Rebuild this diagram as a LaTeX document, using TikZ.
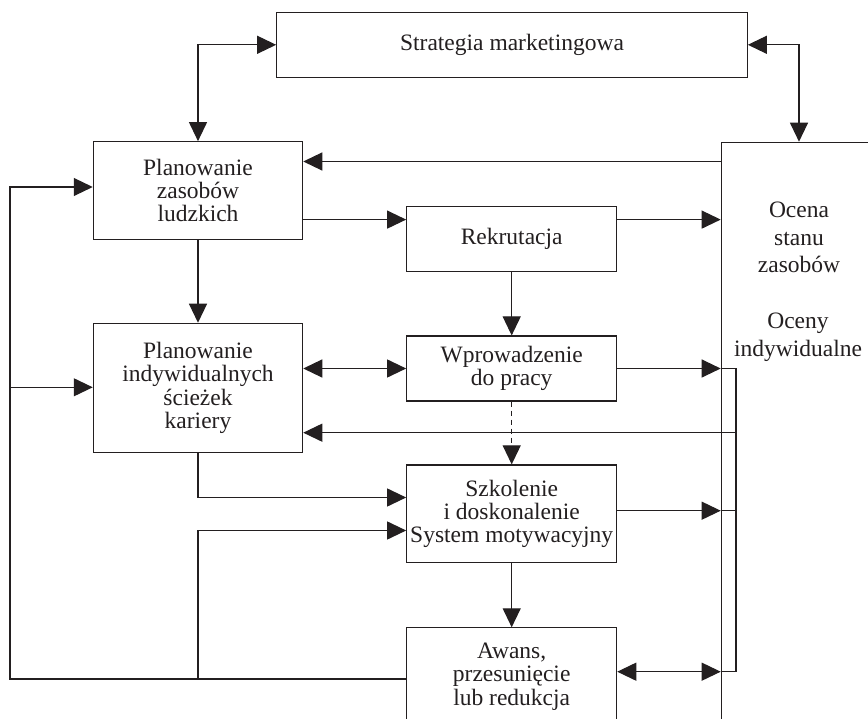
\documentclass[tikz,border=0pt]{standalone}
\usepackage{fontspec}
\setmainfont{Liberation Serif}
\usetikzlibrary{arrows.meta,calc}
\definecolor{ink}{RGB}{35,31,32}
\begin{document}
\begin{tikzpicture}[x=1pt,y=-1pt,
  box/.style={draw=ink, line width=1.1pt, align=center, inner sep=0pt, text=ink,
    font=\fontsize{23.5}{23.3}\selectfont},
  txt/.style={align=center, inner sep=0pt, text=ink, font=\fontsize{23.5}{27.5}\selectfont},
  conn/.style={draw=ink, line width=1.1pt},
  arr/.style={conn, -{Triangle[length=19pt,width=18pt]}},
  darr/.style={conn, {Triangle[length=19pt,width=18pt]}-{Triangle[length=19pt,width=18pt]}}]
\path[use as bounding box] (0,0) rectangle (868,719);
\clip (0,0) rectangle (868,719);
\fill[white] (0,0) rectangle (868,719);
% boxes
\node[box, minimum width=470.6pt, minimum height=65pt] (strat) at (512,44.8) {Strategia marketingowa};
\node[box, minimum width=209.4pt, minimum height=97.6pt] (plan) at (198,190.5) {Planowanie\\zasobów\\ludzkich};
\node[box, minimum width=210pt, minimum height=65pt] (rek) at (511.7,239.2) {Rekrutacja};
\node[box, minimum width=209.4pt, minimum height=129.4pt] (kar) at (198,388) {Planowanie\\indywidualnych\\ścieżek\\kariery};
\node[box, minimum width=210pt, minimum height=65pt] (wpr) at (511.7,368.5) {Wprowadzenie\\do pracy};
\node[box, minimum width=210pt, minimum height=97.7pt] (szk) at (511.7,513.8) {Szkolenie\\i doskonalenie\\System motywacyjny};
\node[box, minimum width=210pt, minimum height=97.7pt] (awa) at (511.7,676.7) {Awans,\\przesunięcie\\lub redukcja};
\node[box, minimum width=300pt, minimum height=700pt, anchor=north west] (oce) at (720.7,141.7) {};
\node[txt] (ocet1) at (799,237.5) {Ocena\\stanu\\zasobów};
\node[txt] (ocet2) at (798,337.5) {Oceny\\indywidualne};
% helper coordinates
\coordinate (ocetop) at (799,141.7);
\coordinate (rl) at (736,0);
\coordinate (ll) at (10,0);
\coordinate (o1) at (0,161.5);
\coordinate (r1) at (0,219.6);
\coordinate (k1) at (0,432.7);
\coordinate (s1) at (0,510.7);
\coordinate (a1) at (0,671.7);
\coordinate (b1) at (0,679);
\coordinate (p1) at (0,187);
\coordinate (k2) at (0,387.3);
\coordinate (s2) at (0,497.5);
\coordinate (s3) at (0,530.5);
% connectors
\draw[darr] (strat.west) -| (plan.north);
\draw[darr] (strat.east) -| (ocetop);
\draw[arr] (oce.west |- o1) -- (plan.east |- o1);
\draw[arr] (plan.east |- r1) -- (rek.west |- r1);
\draw[arr] (rek.east |- r1) -- (oce.west |- r1);
\draw[arr] (plan) -- (kar);
\draw[arr] (rek) -- (wpr);
\draw[darr] (kar.east |- wpr.west) -- (wpr.west);
\draw[arr] (wpr.east) -- (wpr.east -| oce.west);
\draw[conn] (wpr.east -| oce.west) -- (wpr.east -| rl) -- (rl |- a1) -- (oce.west |- a1);
\draw[arr] (rl |- k1) -- (kar.east |- k1);
\draw[arr] (szk.east |- s1) -- (oce.west |- s1);
\draw[conn] (oce.west |- s1) -- (rl |- s1);
\draw[darr] (awa.east |- a1) -- (oce.west |- a1);
\draw[arr, dash pattern=on 5pt off 4pt] (wpr) -- (szk);
\draw[arr] (szk) -- (awa);
\draw[arr] (awa.west |- b1) -| (ll |- p1) -- (plan.west |- p1);
\draw[arr] (ll |- k2) -- (kar.west |- k2);
\draw[arr] (kar.south) |- (szk.west |- s2);
\draw[arr] (kar.south |- b1) |- (szk.west |- s3);
\end{tikzpicture}
\end{document}
